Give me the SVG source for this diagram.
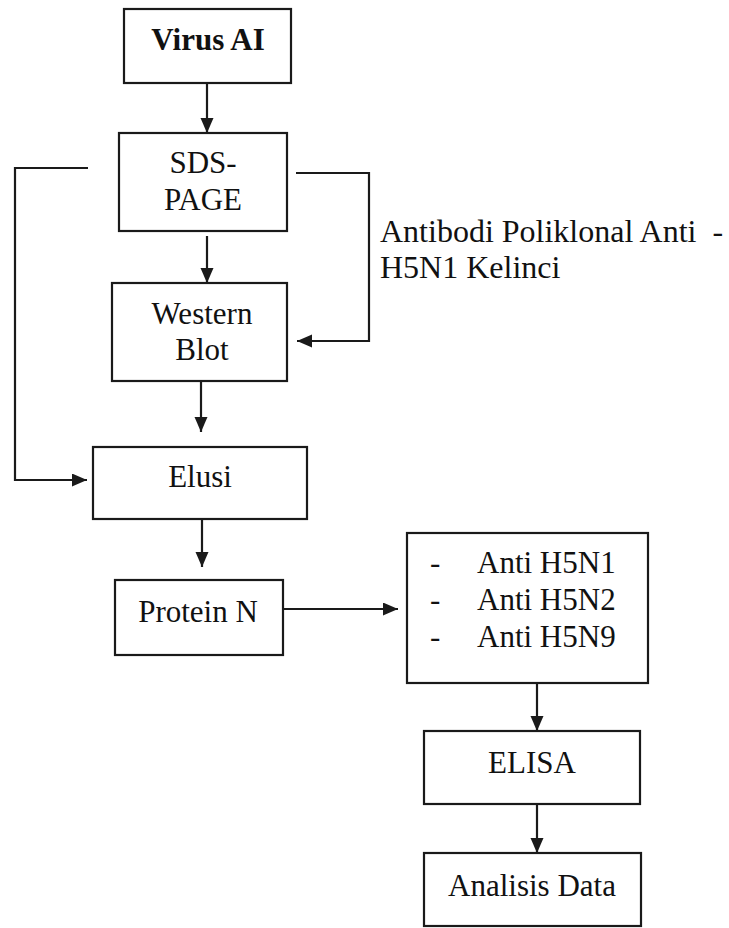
<svg xmlns="http://www.w3.org/2000/svg" width="729" height="928" viewBox="0 0 729 928">
<style>
.box{fill:#fff;stroke:#1a1a1a;stroke-width:2.2}
.t{font-family:"Liberation Serif","Times New Roman",serif;font-size:31px;fill:#111}
.c{text-anchor:middle}
.b{font-weight:bold}
.lbl{font-size:32px}
.line{fill:none;stroke:#1a1a1a;stroke-width:2.2}
</style>
<defs>
<marker id="ah" markerUnits="userSpaceOnUse" markerWidth="16" markerHeight="14" refX="15" refY="6.5" orient="auto">
<path d="M0,0 L15,6.5 L0,13 z" fill="#1a1a1a"/>
</marker>
</defs>
<rect width="729" height="928" fill="#fff"/>
<g id="connectors">
<line class="line" x1="207" y1="83" x2="207" y2="133" marker-end="url(#ah)"/>
<line class="line" x1="207" y1="236" x2="207" y2="283" marker-end="url(#ah)"/>
<polyline class="line" points="296,173 369,173 369,341 297,341" marker-end="url(#ah)"/>
<polyline class="line" points="88,168 15,168 15,480 87,480" marker-end="url(#ah)"/>
<line class="line" x1="201" y1="381" x2="201" y2="432" marker-end="url(#ah)"/>
<line class="line" x1="202" y1="519" x2="202" y2="567" marker-end="url(#ah)"/>
<line class="line" x1="283" y1="609" x2="398" y2="609" marker-end="url(#ah)"/>
<line class="line" x1="537" y1="683" x2="537" y2="731" marker-end="url(#ah)"/>
<line class="line" x1="537" y1="804" x2="537" y2="853" marker-end="url(#ah)"/>
</g>
<g id="virus-ai">
<rect class="box" x="124" y="9" width="167" height="74"/>
<text class="t c b" x="208" y="50">Virus AI</text>
</g>
<g id="sds-page">
<rect class="box" x="119" y="133" width="168" height="98"/>
<text class="t c" x="203" y="173">SDS-</text>
<text class="t c" x="203" y="210">PAGE</text>
</g>
<g id="antibodi-label">
<text class="t lbl" x="380" y="242" xml:space="preserve">Antibodi Poliklonal Anti  -</text>
<text class="t lbl" x="380" y="278">H5N1 Kelinci</text>
</g>
<g id="western-blot">
<rect class="box" x="112" y="283" width="175" height="98"/>
<text class="t c" x="202" y="324">Western</text>
<text class="t c" x="202" y="360">Blot</text>
</g>
<g id="elusi">
<rect class="box" x="93" y="447" width="214" height="72"/>
<text class="t c" x="200" y="487">Elusi</text>
</g>
<g id="protein-n">
<rect class="box" x="115" y="580" width="168" height="75"/>
<text class="t c" x="198" y="622">Protein N</text>
</g>
<g id="anti">
<rect class="box" x="407" y="533" width="241" height="150"/>
<text class="t" x="430" y="573">-</text>
<text class="t" x="477" y="573">Anti H5N1</text>
<text class="t" x="430" y="610">-</text>
<text class="t" x="477" y="610">Anti H5N2</text>
<text class="t" x="430" y="647">-</text>
<text class="t" x="477" y="647">Anti H5N9</text>
</g>
<g id="elisa">
<rect class="box" x="424" y="731" width="216" height="73"/>
<text class="t c" x="532" y="773">ELISA</text>
</g>
<g id="analisis-data">
<rect class="box" x="424" y="853" width="217" height="73"/>
<text class="t c" x="532" y="896">Analisis Data</text>
</g>
</svg>
